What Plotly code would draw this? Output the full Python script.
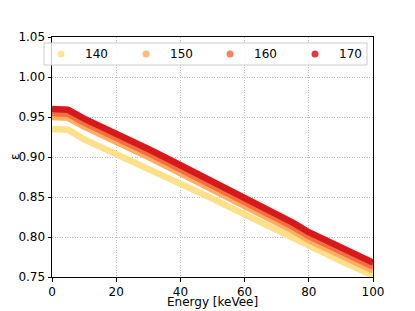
import plotly.graph_objects as go

energy = [0, 5, 10, 15, 20, 25, 30, 35, 40, 45, 50, 55, 60, 65, 70, 75, 80, 85, 90, 95, 100]
eff_140 = [0.935, 0.934, 0.922, 0.913, 0.902, 0.894, 0.885, 0.876, 0.867, 0.857, 0.848,
           0.838, 0.828, 0.819, 0.809, 0.799, 0.788, 0.779, 0.770, 0.761, 0.752]
eff_150 = [0.950, 0.949, 0.938, 0.929, 0.918, 0.909, 0.900, 0.890, 0.880, 0.869, 0.859,
           0.849, 0.838, 0.828, 0.818, 0.808, 0.796, 0.787, 0.777, 0.767, 0.758]
eff_160 = [0.955, 0.954, 0.943, 0.934, 0.923, 0.914, 0.905, 0.895, 0.885, 0.874, 0.864,
           0.854, 0.843, 0.833, 0.823, 0.813, 0.801, 0.792, 0.782, 0.772, 0.763]
eff_170 = [0.960, 0.959, 0.948, 0.939, 0.928, 0.919, 0.910, 0.900, 0.890, 0.879, 0.869,
           0.859, 0.848, 0.838, 0.828, 0.818, 0.806, 0.797, 0.787, 0.777, 0.768]

labels = ["140", "150", "160", "170"]
series = [eff_140, eff_150, eff_160, eff_170]
colors = ["#fee08b", "#fdae61", "#f46d43", "#d7191c"]

fig = go.Figure()
for lab, ys, c in zip(labels, series, colors):
    fig.add_trace(go.Scatter(x=energy, y=ys, mode="lines", name=lab,
                             line=dict(color=c, width=6.5), showlegend=False))

axis_common = dict(showline=True, linecolor="black", linewidth=1, mirror=True,
                   ticks="outside", ticklen=3.5, tickcolor="black",
                   showgrid=True, gridcolor="#bdbdbd", griddash="1px,1.5px", gridwidth=0.8,
                   zeroline=False, tickfont=dict(size=12, color="black"))

# plot area in screen pixels (the page body adds an 8px offset, compensated by margins)
PX0, PX1, PY0, PY1 = 52, 373, 37, 277


def px(x):
    return (x - PX0) / (PX1 - PX0)


def py(y):
    return (PY1 - y) / (PY1 - PY0)


shapes = [dict(type="rect", xref="paper", yref="paper", layer="above",
               x0=px(44), x1=px(367), y0=py(65), y1=py(43),
               line=dict(color="#cccccc", width=1), fillcolor="rgba(255,255,255,0.8)")]
annotations = [
    dict(text="Energy [keVee]", x=0.5, y=0, xref="paper", yref="paper",
         xanchor="center", yanchor="top", yshift=-17, borderpad=0, showarrow=False,
         font=dict(size=12, color="black")),
    dict(text="ε", x=px(15), y=0.5, xref="paper", yref="paper", textangle=-90,
         xanchor="center", yanchor="middle", showarrow=False,
         font=dict(size=12, color="black")),
]
dot_x = [61, 146, 230, 315]
for lab, c, dx in zip(labels, colors, dot_x):
    shapes.append(dict(type="circle", xref="paper", yref="paper", layer="above",
                       x0=px(dx - 3.5), x1=px(dx + 3.5), y0=py(57.5), y1=py(50.5),
                       fillcolor=c, opacity=0.85, line=dict(width=0)))
    annotations.append(dict(text=lab, x=px(dx + 22), y=py(54), xref="paper", yref="paper",
                            xanchor="left", yanchor="middle", showarrow=False,
                            font=dict(size=12, color="black")))

fig.update_layout(
    width=415, height=311,
    margin=dict(l=44, r=50, t=29, b=42, autoexpand=False),
    paper_bgcolor="white", plot_bgcolor="white",
    font=dict(family="DejaVu Sans", size=12, color="black"),
    showlegend=False,
    xaxis=dict(range=[0, 100], dtick=20, **axis_common),
    yaxis=dict(range=[0.75, 1.05], dtick=0.05, tickformat=".2f", **axis_common),
    shapes=shapes,
    annotations=annotations,
)

fig.write_html("out.html")
